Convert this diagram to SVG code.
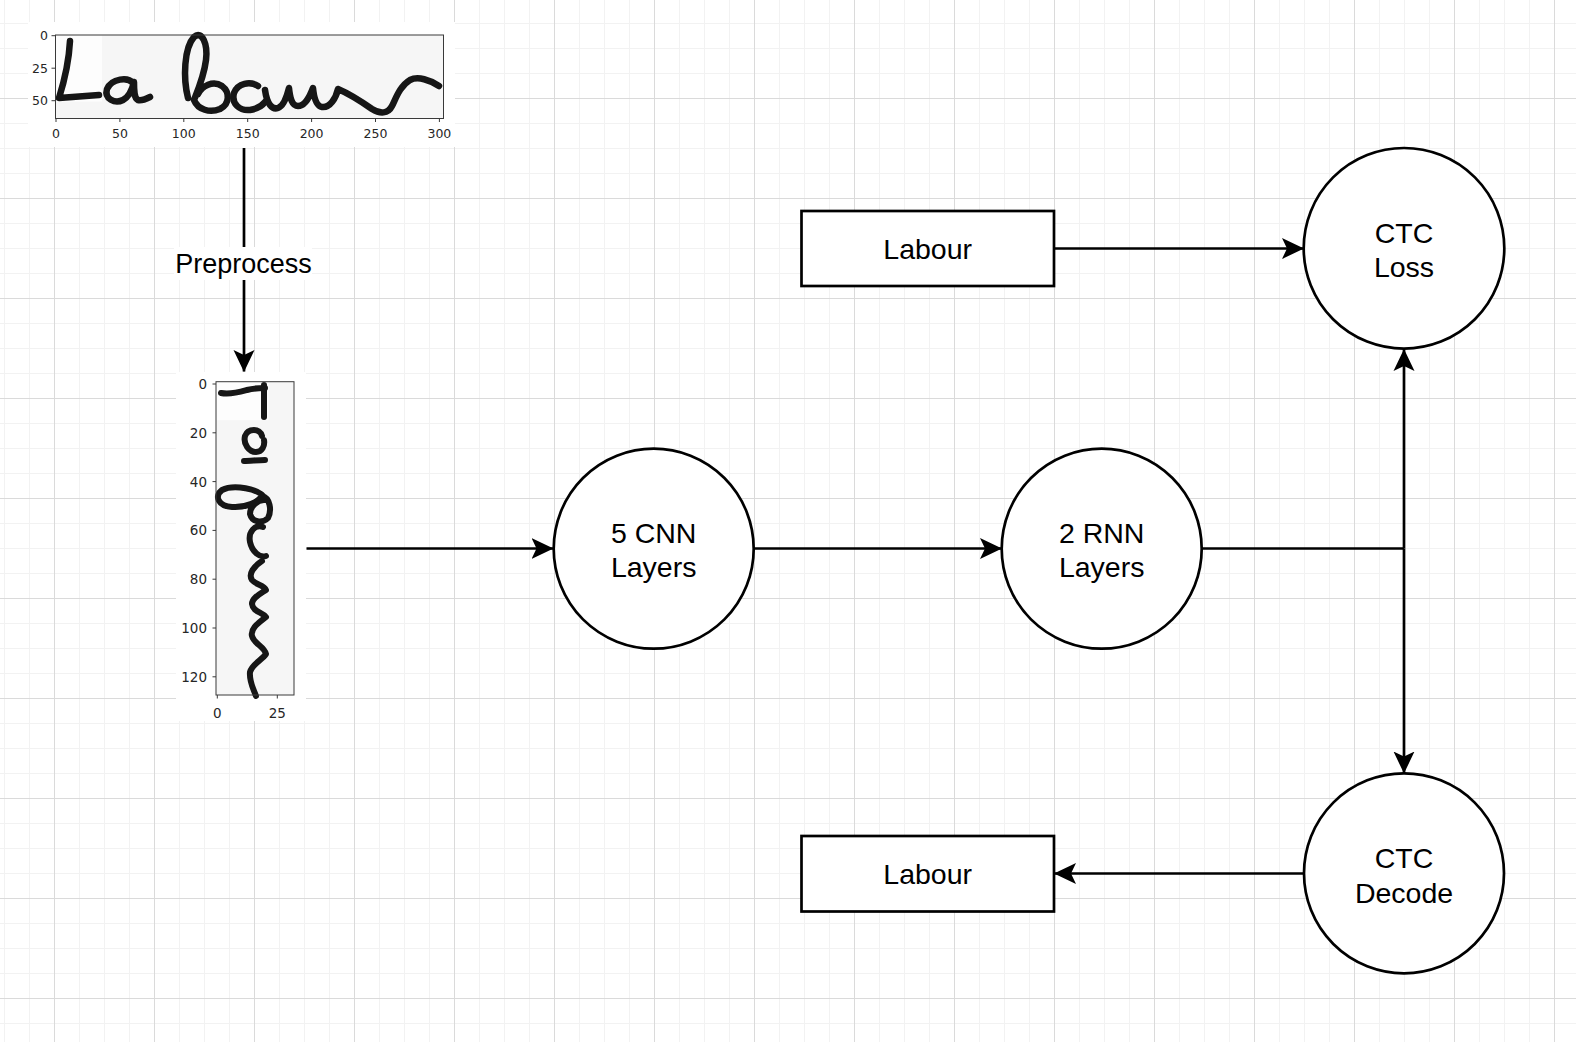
<svg xmlns="http://www.w3.org/2000/svg" width="1576" height="1042" viewBox="0 0 1576 1042">
<defs>
<pattern id="grid" patternUnits="userSpaceOnUse" x="54" y="-2" width="100" height="100">
<rect width="100" height="100" fill="#ffffff"/>
<path d="M25.5,0V100M50.5,0V100M75.5,0V100M0,25.5H100M0,50.5H100M0,75.5H100" stroke="#f2f2f2" stroke-width="1" fill="none"/>
<path d="M0.5,0V100M0,0.5H100" stroke="#dadada" stroke-width="1" fill="none"/>
</pattern>
<marker id="arrow" markerUnits="userSpaceOnUse" markerWidth="22" markerHeight="22" viewBox="0 0 22 22" refX="21.5" refY="11" orient="auto">
<path d="M22,11 L0,0.5 L5,11 L0,21.5 Z" fill="#000"/>
</marker>
</defs>
<style>
.node{fill:#fff;stroke:#000;stroke-width:2.7}
.lbl{font-family:"Liberation Sans",Arial,sans-serif;font-size:28.5px;fill:#000;text-anchor:middle}
.edge{fill:none;stroke:#000;stroke-width:2.7}
.tick{font-family:"DejaVu Sans",sans-serif;fill:#262626}
.ax{fill:none;stroke:#3a3a3a;stroke-width:1}
.ink{fill:none;stroke:#161616;stroke-linecap:round;stroke-linejoin:round}
</style>
<rect width="1576" height="1042" fill="url(#grid)"/>

<g id="input-image">
<rect x="28" y="22" width="427" height="125" fill="#fff"/>
<rect x="55.5" y="35" width="388" height="83.5" fill="#f6f6f6"/>
<rect x="56" y="35.5" width="46" height="66" fill="#fdfdfd"/>
<g class="ink" stroke-width="6.5">
<path d="M70,41 C69,60 64,82 59,98 C72,97 86,96 99,95"/>
<path d="M133,83 C128,77 112,78 107,89 C104,99 115,104 123,100 C129,97 132,90 134,82 C134,92 134,98 138,100 C142,101 146,99 150,97"/>
<path d="M188,98 C183,78 184,48 194,37 C202,30 208,44 206,60 C204,76 198,90 194,100 C198,110 210,113 220,109 C230,104 230,92 222,86 C213,80 202,86 198,94"/>
<path d="M258,86 C250,81 238,83 234,93 C231,104 240,111 250,110 C256,109 262,106 265,102"/>
<path d="M265,90 C267,104 272,110 278,108 C284,106 287,96 289,88 C290,98 292,106 298,106 C305,106 310,96 313,88 C314,98 316,106 322,107 C330,108 336,98 338,89 C345,92 362,102 372,109 C380,114 388,114 392,106 C396,98 400,86 410,80 C418,76 430,80 439,86"/>
</g>
<rect x="55.5" y="35" width="388" height="83.5" class="ax"/>
<path class="ax" d="M51.5,35.7H55.5M51.5,68.2H55.5M51.5,100.7H55.5M56,118.5V122M119.9,118.5V122M183.8,118.5V122M247.7,118.5V122M311.6,118.5V122M375.5,118.5V122M439.4,118.5V122"/>
<g class="tick" font-size="12.5" text-anchor="end">
<text x="48" y="40.2">0</text>
<text x="48" y="72.7">25</text>
<text x="48" y="105.2">50</text>
</g>
<g class="tick" font-size="12.5" text-anchor="middle">
<text x="56" y="138">0</text>
<text x="119.9" y="138">50</text>
<text x="183.8" y="138">100</text>
<text x="247.7" y="138">150</text>
<text x="311.6" y="138">200</text>
<text x="375.5" y="138">250</text>
<text x="439.4" y="138">300</text>
</g>
</g>

<g id="preprocessed-image">
<rect x="176" y="372" width="130" height="349" fill="#fff"/>
<rect x="216" y="381.7" width="78" height="313.3" fill="#f6f6f6"/>
<rect x="216.5" y="382.2" width="52" height="38" fill="#fdfdfd"/>
<g class="ink" stroke-width="6">
<path d="M221,393 C230,395 240,392 247,390 C254,388 259,388 265,388"/>
<path d="M264,385 V417"/>
<path d="M262,436 C260,428 248,428 245,436 C243,444 249,452 256,452 C262,452 265,446 264,440"/>
<path d="M244,461 C250,461 258,460 265,460"/>
<path d="M266,500 C260,487 232,485 222,490 C214,496 218,506 232,507 C246,508 258,502 262,496 C270,498 272,510 268,518 C262,524 252,522 250,514 C250,506 258,500 264,500"/>
<path d="M263,527 C255,524 248,532 250,542 C252,552 260,558 266,556"/>
<path d="M262,561 C254,566 248,574 252,580 C256,585 264,585 266,590 C260,594 252,598 252,604 C253,612 262,612 266,617 C260,622 250,628 252,636 C254,644 264,646 266,654 C262,660 252,664 250,672 C249,682 254,690 256,696"/>
</g>
<rect x="216" y="381.7" width="78" height="313.3" class="ax"/>
<path class="ax" d="M212.5,384H216M212.5,432.8H216M212.5,481.6H216M212.5,530.4H216M212.5,579.2H216M212.5,628H216M212.5,676.8H216M217.3,695V698.5M277.3,695V698.5"/>
<g class="tick" font-size="13.5" text-anchor="end">
<text x="207" y="389">0</text>
<text x="207" y="437.8">20</text>
<text x="207" y="486.6">40</text>
<text x="207" y="535.4">60</text>
<text x="207" y="584.2">80</text>
<text x="207" y="633">100</text>
<text x="207" y="681.8">120</text>
</g>
<g class="tick" font-size="13.5" text-anchor="middle">
<text x="217.3" y="718">0</text>
<text x="277.3" y="718">25</text>
</g>
</g>

<g id="connectors">
<line class="edge" x1="244" y1="148" x2="244" y2="371.5" marker-end="url(#arrow)"/>
<line class="edge" x1="306.5" y1="548.5" x2="553" y2="548.5" marker-end="url(#arrow)"/>
<line class="edge" x1="754" y1="548.5" x2="1001.5" y2="548.5" marker-end="url(#arrow)"/>
<polyline class="edge" points="1202,548.5 1404,548.5"/>
<line class="edge" x1="1404" y1="548.5" x2="1404" y2="349.5" marker-end="url(#arrow)"/>
<line class="edge" x1="1404" y1="548.5" x2="1404" y2="773" marker-end="url(#arrow)"/>
<line class="edge" x1="1054.5" y1="248.5" x2="1303.5" y2="248.5" marker-end="url(#arrow)"/>
<line class="edge" x1="1303.5" y1="873.5" x2="1054.5" y2="873.5" marker-end="url(#arrow)"/>
<rect x="174" y="247" width="138" height="33" fill="#fff"/>
<text x="243.5" y="272.5" font-family="Liberation Sans, Arial, sans-serif" font-size="27" text-anchor="middle" fill="#000">Preprocess</text>
</g>

<g id="node-cnn">
<circle class="node" cx="653.7" cy="548.7" r="100"/>
<text class="lbl" x="653.7" y="542.5">5 CNN</text>
<text class="lbl" x="653.7" y="577.2">Layers</text>
</g>
<g id="node-rnn">
<circle class="node" cx="1101.7" cy="548.7" r="100"/>
<text class="lbl" x="1101.7" y="542.5">2 RNN</text>
<text class="lbl" x="1101.7" y="577.2">Layers</text>
</g>
<g id="node-ctc-loss">
<circle class="node" cx="1404" cy="248.3" r="100.3"/>
<text class="lbl" x="1404" y="242.5">CTC</text>
<text class="lbl" x="1404" y="277.3">Loss</text>
</g>
<g id="node-ctc-decode">
<circle class="node" cx="1404" cy="873.3" r="100"/>
<text class="lbl" x="1404" y="868">CTC</text>
<text class="lbl" x="1404" y="903">Decode</text>
</g>
<g id="node-label-target">
<rect class="node" x="801.5" y="211" width="252.5" height="75"/>
<text class="lbl" x="927.7" y="259.3">Labour</text>
</g>
<g id="node-label-output">
<rect class="node" x="801.5" y="836" width="252.5" height="75.5"/>
<text class="lbl" x="927.7" y="884.3">Labour</text>
</g>
</svg>
